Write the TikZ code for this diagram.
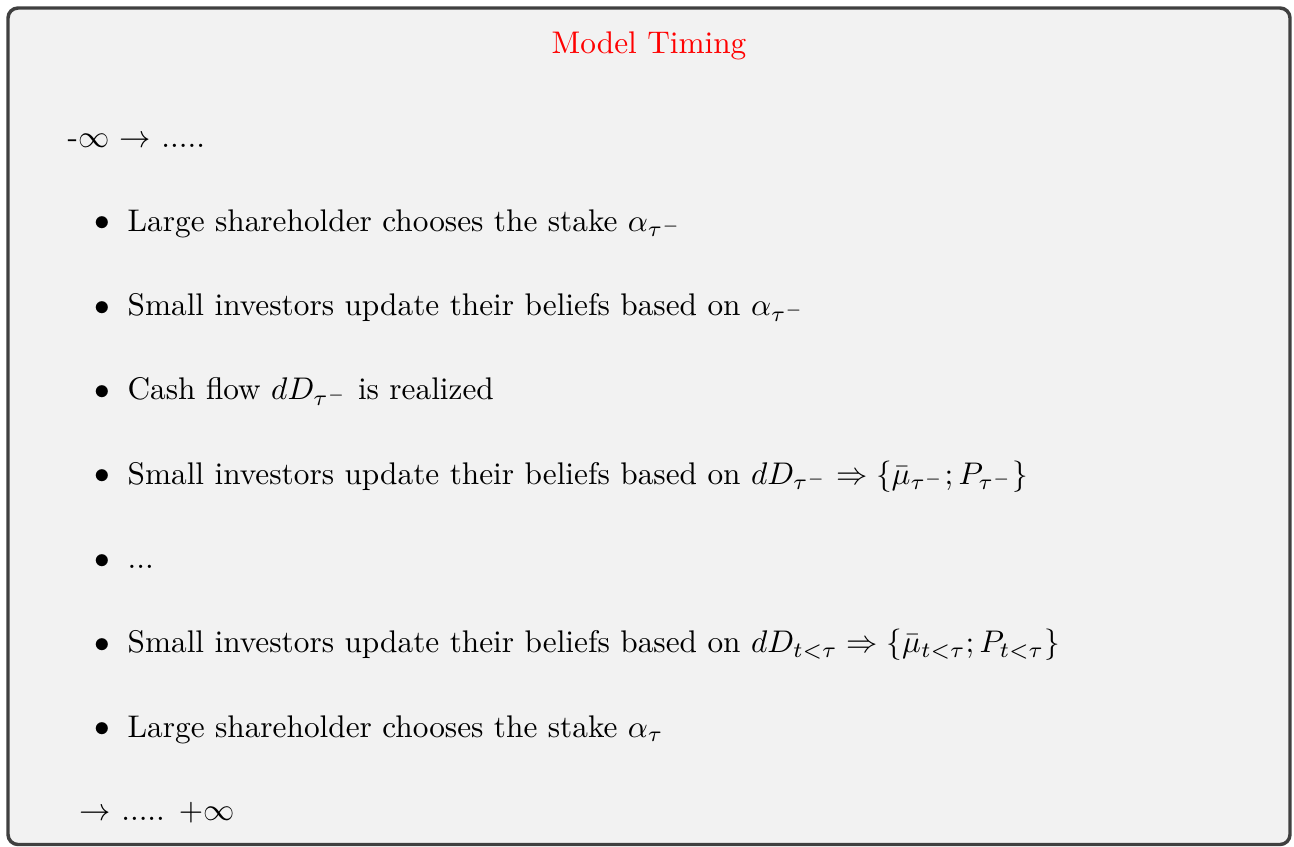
\documentclass[tikz,border=0pt]{standalone}
\usepackage{amsmath}
\tikzset{
  timingbox/.style={draw=black!75,fill=black!5,line width=1.1pt,rounded corners=3.2pt},
  line/.style={anchor=base west,inner sep=0pt},
  dot/.style={inner sep=0pt}
}
\begin{document}
\begin{tikzpicture}[x=0.3195pt,y=-0.3195pt]
  \useasboundingbox (0,0) rectangle (1294,846);
  \draw[timingbox] (8,8) rectangle (1290,844.5);
  \node[anchor=base,inner sep=0pt,text=red] (title) at (649,53) {Model Timing};
  \node[line] (start) at (67,147) {-$\infty$ $\rightarrow$ .....};
  \foreach \i in {0,...,6}
    \node[dot] (b\i) at (102,{224+84.33*\i}) {$\bullet$};
  \node[line] (l0) at (127,231) {Large shareholder chooses the stake $\alpha_{\tau^-}$};
  \node[line] (l1) at (127,315.3) {Small investors update their beliefs based on $\alpha_{\tau^-}$};
  \node[line] (l2) at (127,399.7) {Cash flow $dD_{\tau^-}$ is realized};
  \node[line] (l3) at (127,484) {Small investors update their beliefs based on $dD_{\tau^-} \Rightarrow \{\bar{\mu}_{\tau^-};P_{\tau^-}\}$};
  \node[line] (l4) at (127,568.3) {...};
  \node[line] (l5) at (127,652.7) {Small investors update their beliefs based on $dD_{t<\tau} \Rightarrow \{\bar{\mu}_{t<\tau};P_{t<\tau}\}$};
  \node[line] (l6) at (127,737) {Large shareholder chooses the stake $\alpha_\tau$};
  \node[line] (end) at (79,820) {$\rightarrow$ ..... $+\infty$};
\end{tikzpicture}
\end{document}
